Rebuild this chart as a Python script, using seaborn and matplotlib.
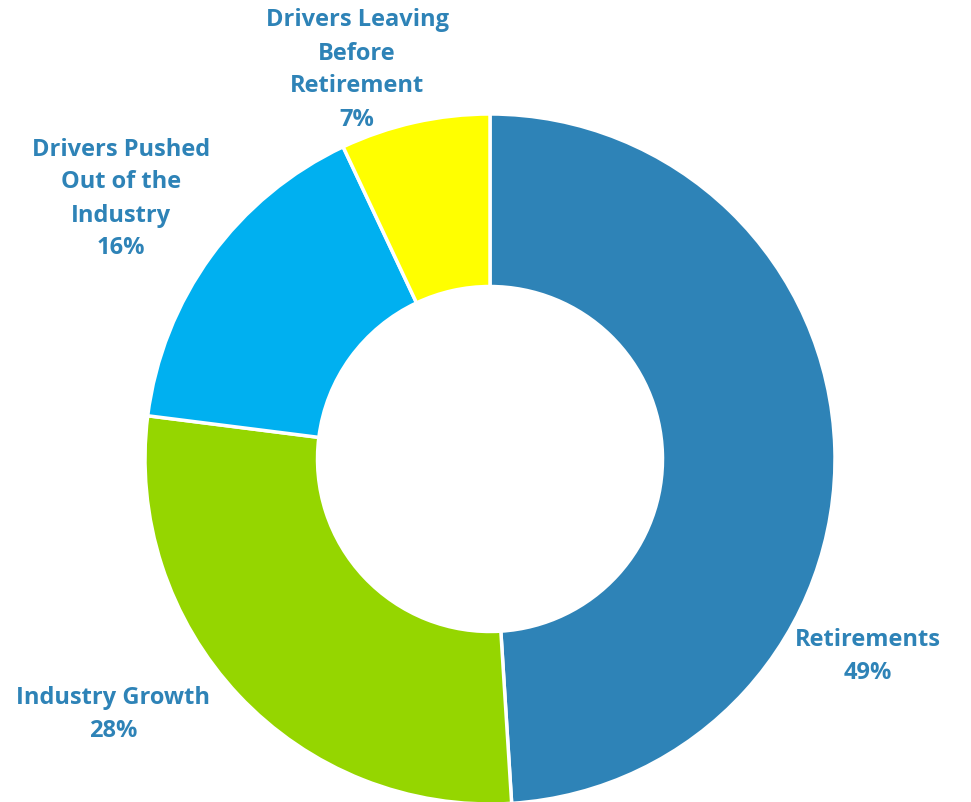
import matplotlib
matplotlib.use("Agg")
import matplotlib.pyplot as plt
import seaborn as sns

# dados
categorias = ["Retirements", "Industry Growth", "Drivers Pushed\nOut of the\nIndustry", "Drivers Leaving\nBefore\nRetirement"]
valores = [49, 28, 16, 7]
cores = ["#2E83B7", "#95D600", "#00B0F0", "#FFFF00"]

sns.set_style("white")
plt.rcParams["font.family"] = ["Open Sans", "DejaVu Sans"]

fig = plt.figure(figsize=(9.71, 8.03), dpi=100)
ax = fig.add_axes([0, 0, 1, 1])

centro = (490, 803 - 460)
raio = 345
ax.pie(valores, colors=cores, startangle=90, counterclock=False,
       center=centro, radius=raio, frame=True,
       wedgeprops=dict(width=raio * 0.5, edgecolor="white", linewidth=2.5))
ax.set_xlim(0, 971)
ax.set_ylim(0, 803)
ax.set_aspect("equal")
ax.axis("off")

# posições dos rótulos (pixels da imagem)
pos_rotulos = [(868, 657), (113, 715), (121, 199), (357, 70)]
for cat, v, (x, y) in zip(categorias, valores, pos_rotulos):
    ax.text(x, 803 - y, f"{cat}\n{v}%", ha="center", va="center",
            color="#2E83B7", fontsize=17, fontweight="bold", linespacing=1.5)

fig.savefig("out.png", dpi=100)
